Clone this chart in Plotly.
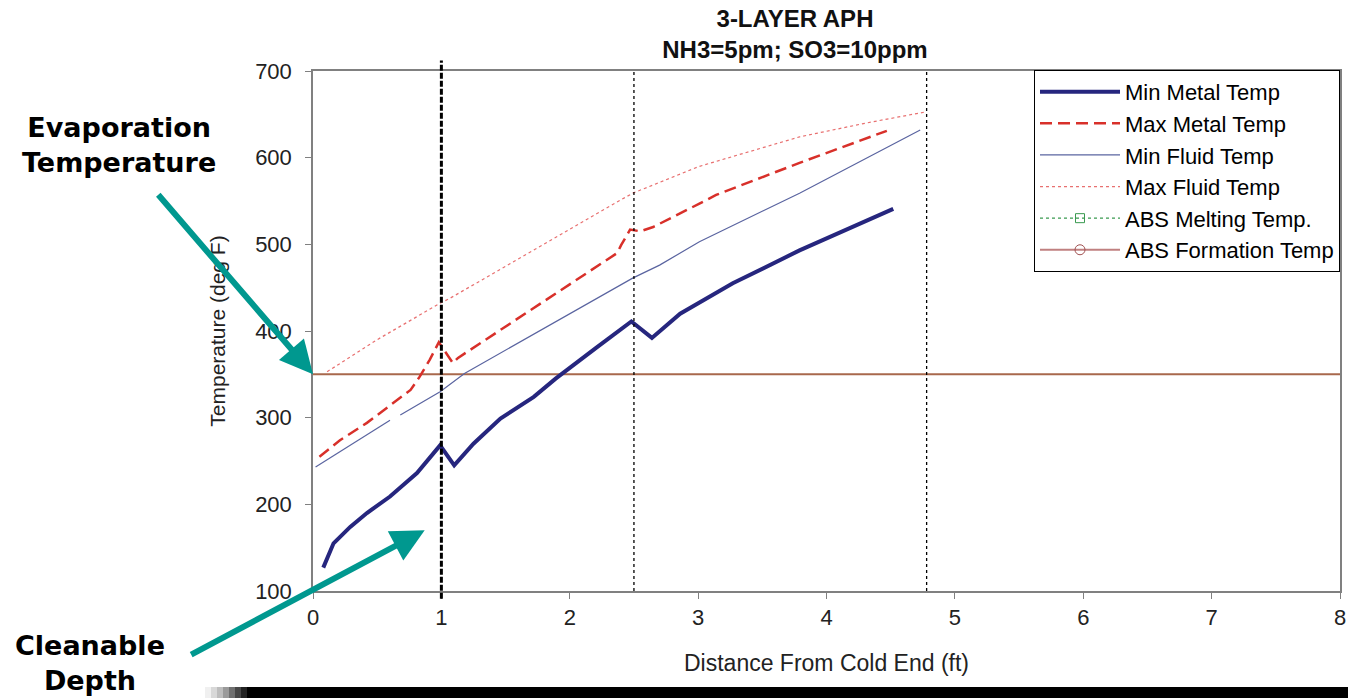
import plotly.graph_objects as go

# ---------------- data ----------------
min_metal_x = [0.08, 0.16, 0.29, 0.42, 0.60, 0.81, 0.99, 1.10, 1.25, 1.46, 1.72, 1.89, 2.20, 2.48, 2.64, 2.86, 3.27, 3.79, 4.52]
min_metal_t = [127, 155, 174, 190, 209, 236, 268, 245, 270, 299, 324, 345, 380, 411, 392, 420, 455, 493, 541]

max_metal_x = [0.05, 0.21, 0.42, 0.63, 0.76, 0.83, 0.91, 0.98, 1.09, 1.13, 1.46, 2.00, 2.37, 2.40, 2.47, 2.55, 2.65, 3.01, 3.14, 3.79, 4.47]
max_metal_t = [255, 274, 294, 317, 332, 347, 367, 387, 363, 369, 401, 454, 490, 499, 517, 515, 520, 547, 557, 594, 631]

min_fluid_x = [0.02, 0.60, 0.64, 0.68, 0.99, 1.18, 2.49, 2.70, 3.01, 3.79, 4.73]
min_fluid_t = [243, 297, None, 303, 330, 351, 461, 476, 503, 559, 632]

max_fluid_x = [0.11, 0.50, 0.99, 1.07, 2.24, 2.49, 3.01, 3.79, 4.31, 4.78]
max_fluid_t = [353, 390, 432, 438, 538, 559, 590, 624, 640, 653]

abs_formation_x = [0, 8]
abs_formation_t = [350, 350]

cleanable_depth_x = [1.0]
layer_boundary_x = [2.5, 4.78]

x_ticks = [0, 1, 2, 3, 4, 5, 6, 7, 8]
y_ticks = [100, 200, 300, 400, 500, 600, 700]

title_lines = ["3-LAYER APH", "NH3=5pm; SO3=10ppm"]
x_title = "Distance From Cold End (ft)"
y_title = "Temperature (deg F)"

# ---------------- styling ----------------
FONT = "Liberation Sans, Arial, sans-serif"
TEAL = "#00988F"
ABS_COLOR = "#A8684C"

fig = go.Figure()

# ABS formation horizontal line (drawn; its legend entry is a separate item)
fig.add_trace(go.Scatter(x=abs_formation_x, y=abs_formation_t, mode="lines",
                         line=dict(color=ABS_COLOR, width=2), showlegend=False,
                         hoverinfo="skip"))

fig.add_trace(go.Scatter(x=min_metal_x, y=min_metal_t, mode="lines", name="Min Metal Temp",
                         legendgroup="g1", line=dict(color="#26267E", width=4)))
fig.add_trace(go.Scatter(x=max_metal_x, y=max_metal_t, mode="lines", name="Max Metal Temp",
                         legendgroup="g2", line=dict(color="#D8302A", width=2.5, dash="12px,6px")))
fig.add_trace(go.Scatter(x=min_fluid_x, y=min_fluid_t, mode="lines", name="Min Fluid Temp",
                         legendgroup="g3", connectgaps=False,
                         line=dict(color="#5A64A0", width=1.2)))
fig.add_trace(go.Scatter(x=max_fluid_x, y=max_fluid_t, mode="lines", name="Max Fluid Temp",
                         legendgroup="g4", line=dict(color="#E87070", width=1.2, dash="3px,3px")))
fig.add_trace(go.Scatter(x=[None], y=[None], mode="lines+markers", name="ABS Melting Temp.",
                         legendgroup="g5",
                         line=dict(color="#3A9A50", width=1.2, dash="3px,3px"),
                         marker=dict(symbol="square-open", size=9, color="#3A9A50")))
fig.add_trace(go.Scatter(x=[None], y=[None], mode="lines+markers", name="ABS Formation Temp",
                         legendgroup="g6",
                         line=dict(color="#C08080", width=2),
                         marker=dict(symbol="circle-open", size=10, color="#A05050")))

shapes = []
for xv in cleanable_depth_x:
    shapes.append(dict(type="line", xref="x", yref="paper", x0=xv, x1=xv, y0=-0.015, y1=1.02,
                       line=dict(color="black", width=3, dash="6px,2px")))
for xv in layer_boundary_x:
    shapes.append(dict(type="line", xref="x", yref="paper", x0=xv, x1=xv, y0=0, y1=1,
                       line=dict(color="black", width=1.3, dash="3px,3px")))


def px2paper_x(px):
    return (px - 313) / 1027


def px2paper_y(py):
    return (591 - py) / 520


# black bar at the bottom of the slide image with a soft left edge
grad = ["#f0f0f0", "#d8d8d8", "#bdbdbd", "#9a9a9a", "#707070", "#474747", "#222222"]
px_x0, px_x1 = 205, 247
step = (px_x1 - px_x0) / len(grad)
for i, c in enumerate(grad):
    shapes.append(dict(type="rect", xref="paper", yref="paper",
                       x0=px2paper_x(px_x0 + i * step), x1=px2paper_x(px_x0 + (i + 1) * step),
                       y0=px2paper_y(699), y1=px2paper_y(687),
                       line=dict(width=0), fillcolor=c, layer="above"))
shapes.append(dict(type="rect", xref="paper", yref="paper",
                   x0=px2paper_x(px_x1), x1=px2paper_x(1350),
                   y0=px2paper_y(699), y1=px2paper_y(687),
                   line=dict(width=0), fillcolor="black", layer="above"))

annotations = [
    dict(text="<b>Evaporation<br>Temperature</b>", xref="paper", yref="paper",
         x=px2paper_x(119), y=px2paper_y(145), xanchor="center", yanchor="middle",
         showarrow=False, font=dict(family="DejaVu Sans", size=27, color="black"),
         align="center"),
    dict(text="<b>Cleanable<br>Depth</b>", xref="paper", yref="paper",
         x=px2paper_x(90), y=px2paper_y(663), xanchor="center", yanchor="middle",
         showarrow=False, font=dict(family="DejaVu Sans", size=27, color="black"),
         align="center"),
    # arrows
    dict(text="", x=0, y=abs_formation_t[0], xref="x", yref="y",
         showarrow=True, axref="pixel", ayref="pixel", ax=-156, ay=-181,
         arrowhead=2, arrowsize=1.1, arrowwidth=6, arrowcolor=TEAL, standoff=0),
    dict(text="", x=0.87, y=170, xref="x", yref="y",
         showarrow=True, axref="pixel", ayref="pixel", ax=-235, ay=125,
         arrowhead=2, arrowsize=1.1, arrowwidth=6, arrowcolor=TEAL, standoff=0),
]

fig.update_layout(
    width=1348, height=698,
    margin=dict(l=313, r=8, t=71, b=107),
    paper_bgcolor="white", plot_bgcolor="white",
    font=dict(family=FONT, color="black"),
    title=dict(text="<b>" + "<br>".join(title_lines) + "</b>",
               x=795 / 1348, xanchor="center", xref="container",
               y=0.962, yanchor="top", font=dict(family=FONT, size=24, color="#111")),
    showlegend=True,
    legend=dict(x=1, xanchor="right", y=1.002, yanchor="top",
                bordercolor="black", borderwidth=1, bgcolor="white",
                font=dict(family=FONT, size=22, color="black"),
                tracegroupgap=0, itemwidth=80),
    shapes=shapes,
    annotations=annotations,
)

fig.update_xaxes(range=[0, 8], tickvals=x_ticks, ticktext=[str(v) for v in x_ticks],
                 showline=True, linecolor="#808080", linewidth=1.5, mirror=True,
                 ticks="outside", ticklen=6, tickcolor="#808080", showgrid=False,
                 zeroline=False, tickfont=dict(size=22, color="#222"),
                 title=dict(text=x_title, font=dict(size=23, color="#222"), standoff=26),
                 automargin=False)
fig.update_yaxes(range=[100, 700], tickvals=y_ticks, ticktext=[str(v) for v in y_ticks],
                 showline=True, linecolor="#808080", linewidth=1.5, mirror=True,
                 ticks="outside", ticklen=6, tickcolor="#808080", showgrid=False,
                 zeroline=False, tickfont=dict(size=22, color="#222"),
                 ticklabelstandoff=9,
                 title=dict(text=y_title, font=dict(size=21, color="#222"), standoff=24),
                 automargin=False)

fig.write_html("out.html", config={"displayModeBar": False},
               post_script="document.body.style.margin='0';")
